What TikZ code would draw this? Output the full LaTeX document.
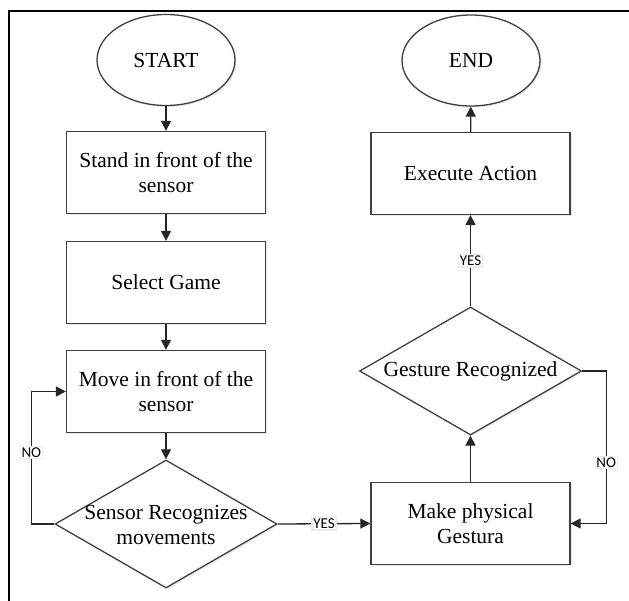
\documentclass[tikz,border=0pt]{standalone}
\usepackage{fontspec}
\setmainfont{Liberation Serif}
\newfontfamily\lblfont{Carlito}
\usetikzlibrary{arrows.meta, shapes.geometric, shadows}

\begin{document}
\begin{tikzpicture}[x=1pt,y=-1pt,
    shp/.style={draw=black!75,line width=1.3pt,fill=white,
      drop shadow={opacity=.18,shadow xshift=1.5pt,shadow yshift=-1.5pt}},
    box/.style={shp,minimum width=199pt,minimum height=82pt,align=center,
      font=\fontsize{21.5}{25}\selectfont},
    term/.style={shp,ellipse,minimum width=138pt,minimum height=91pt,
      font=\fontsize{21.5}{25}\selectfont},
    cond/.style={shp,diamond,minimum width=222pt,minimum height=128pt,inner sep=0pt},
    txt/.style={align=center,font=\fontsize{21.5}{25}\selectfont},
    arr/.style={draw=black!85,line width=1.3pt,-{Triangle[length=10pt,width=10pt]}},
    yn/.style={fill=white,draw=black!8,inner sep=1.2pt,font=\lblfont\fontsize{15}{16}\selectfont}]
  \useasboundingbox (0,0) rectangle (629,601);
  \draw[line width=2.4pt] (9,601) -- (9,11) -- (629,11);

  \node[term] (start) at (166,60) {START};
  \node[box] (stand) at (166,172.5) {Stand in front of the\\sensor};
  \node[box] (select) at (166,282.5) {Select Game};
  \node[box] (move) at (166,391.5) {Move in front of the\\sensor};
  \node[cond] (sensor) at (166,524) {};
  \node[txt] (sensortxt) at (166,525) {Sensor Recognizes\\movements};

  \node[term] (end) at (471,60.5) {END};
  \node[box] (exec) at (470.5,173.5) {Execute Action};
  \node[cond] (gesture) at (470.5,371) {};
  \node[txt] (gesturetxt) at (470.5,371) {Gesture Recognized};
  \node[box] (make) at (470.5,523.5) {Make physical\\Gestura};

  \foreach \a/\b in {start/stand,stand/select,select/move,move/sensor,
    make/gesture,exec/end}
    \draw[arr] (\a) -- (\b);
  \draw[arr] (sensor.west) -- ++(-23,0) |- node[yn,pos=.27]{NO} (move.west);
  \draw[arr] (sensor.east) -- node[yn]{YES} (make.west);
  \draw[arr] (gesture.east) -- ++(24,0) |- node[yn,pos=.3]{NO} (make.east);
  \draw[arr] (gesture.north) -- node[yn]{YES} (exec.south);
\end{tikzpicture}
\end{document}
